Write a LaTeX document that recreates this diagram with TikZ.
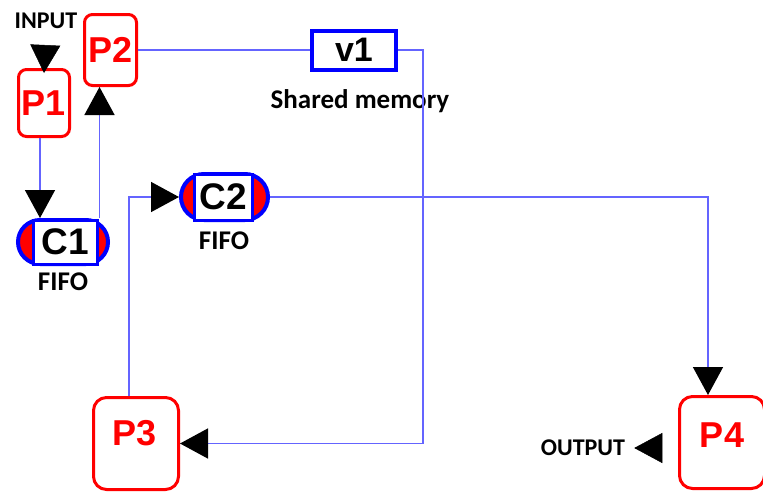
\documentclass[tikz,border=0pt]{standalone}
\usepackage{fontspec}
\setmainfont{Liberation Sans}
\newfontfamily\calb{Carlito}
\usetikzlibrary{arrows.meta,shapes.misc,calc}
\definecolor{lineblue}{RGB}{100,100,255}
\begin{document}
\begin{tikzpicture}[x=1pt,y=-1pt,
  pbox/.style={draw=red,line width=3pt,rounded corners=8pt,fill=white,inner sep=0pt},
  bigbox/.style={pbox,rounded corners=13pt},
  ptext/.style={text=red,font=\fontsize{36}{36}\selectfont\bfseries,inner sep=0pt},
  ctext/.style={font=\fontsize{37}{37}\selectfont\bfseries,inner sep=0pt},
  lab/.style={font=\calb\fontsize{24}{24}\selectfont\bfseries,inner sep=0pt},
  biglab/.style={font=\calb\fontsize{27}{27}\selectfont\bfseries,inner sep=0pt},
  capsule/.style={rounded rectangle,draw=blue,fill=red,line width=4pt,inner sep=0pt},
  capin/.style={rectangle,draw=blue,fill=white,line width=3pt,inner sep=0pt},
  conn/.style={draw=lineblue,line width=1.5pt},
  tip/.style={-{Triangle[width=30pt,length=28pt,color=black]}},
  lonetip/.style={draw=white,line width=0.5pt,tip}
]
\useasboundingbox (0,0) rectangle (763,493);
\clip (0,0) rectangle (763,493);

% process boxes
\node[pbox,minimum width=51pt,minimum height=67pt] (P1) at (44,103) {};
\node[ptext] (P1t) at (P1.center) {P1};
\node[pbox,minimum width=52pt,minimum height=71pt] (P2) at (110.5,50) {};
\node[ptext] (P2t) at (P2.center) {P2};
\node[bigbox,minimum width=85pt,minimum height=92pt] (P3) at (136,443.5) {};
\node[ptext] (P3t) at (135,433) {P3};
\node[bigbox,minimum width=85pt,minimum height=92pt] (P4) at (722,442.5) {};
\node[ptext] (P4t) at (722,435) {P4};

% shared memory
\node[draw=blue,line width=4pt,minimum width=84pt,minimum height=39pt,inner sep=0pt] (v1) at (354,50) {};
\node[ctext,font=\fontsize{34}{34}\selectfont\bfseries] (v1t) at (v1.center) {v1};
\node[biglab] (sm) at (360,101) {Shared memory};

% FIFO channels
\node[capsule,minimum width=90pt,minimum height=44pt] (C1) at (63,242) {};
\node[capin,minimum width=64pt,minimum height=44pt] (C1i) at (65,242) {};
\node[ctext] (C1t) at (C1i.center) {C1};
\node[biglab] (f1) at (63,282) {FIFO};

\node[capsule,minimum width=87pt,minimum height=46pt] (C2) at (224.5,197) {};
\node[capin,minimum width=58pt,minimum height=46pt] (C2i) at (223.5,197) {};
\node[ctext] (C2t) at (C2i.center) {C2};
\node[biglab] (f2) at (224,241) {FIFO};

% input / output
\node[lab] (inp) at (46,21) {INPUT};
\node[lab] (outp) at (583,448) {OUTPUT};

% connectors
\draw[lonetip] (inp.south) -- ([yshift=-5pt]P1.north);
\draw[conn,tip] ([xshift=-4pt]P1.south) -- ([xshift=-4pt]P1.south |- C1.north);
\draw[conn,tip] ([xshift=-11pt]P2.south |- C1.north) -- ([xshift=-11pt]P2.south);
\draw[conn] (P2.east) -- (v1.west);
\draw[conn,tip] (v1.east) -- ++(25pt,0) |- (P3.east);
\draw[conn,tip] ([xshift=-7pt]P3.north) |- (C2.west);
\draw[conn,tip] (C2.east) -| ([xshift=-14pt]P4.north);
\draw[lonetip] (P4.west |- outp.east) -- ([xshift=9pt]outp.east);
\end{tikzpicture}
\end{document}
